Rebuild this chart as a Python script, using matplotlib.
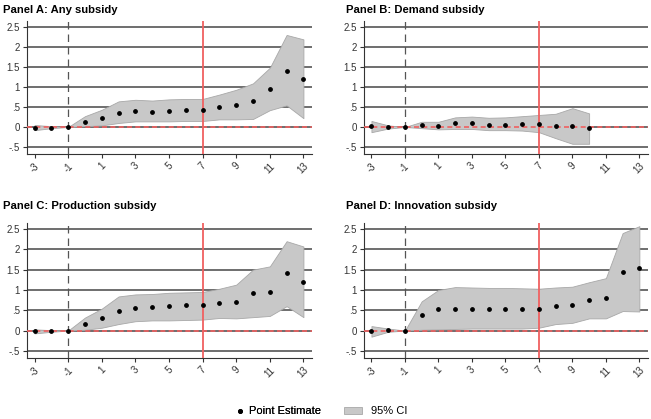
import matplotlib
matplotlib.use("Agg")
import matplotlib.pyplot as plt
from matplotlib.lines import Line2D
from matplotlib.patches import Patch
import numpy as np

plt.rcParams['font.family'] = ['Liberation Sans', 'DejaVu Sans']

periods = list(range(-3, 14))
xticks = [-3, -1, 1, 3, 5, 7, 9, 11, 13]
yticks = [-0.5, 0, 0.5, 1, 1.5, 2, 2.5]
ytick_labels = ["-.5", "0", ".5", "1", "1.5", "2", "2.5"]
titles = ["Panel A: Any subsidy", "Panel B: Demand subsidy",
          "Panel C: Production subsidy", "Panel D: Innovation subsidy"]

est_a = [-0.025, -0.02, 0, 0.13, 0.23, 0.35, 0.40, 0.38, 0.41, 0.43, 0.43, 0.49, 0.54, 0.64, 0.96, 1.41, 1.19]
hi_a = [0.05, 0.02, 0, 0.27, 0.43, 0.64, 0.68, 0.66, 0.69, 0.70, 0.70, 0.81, 0.93, 1.09, 1.48, 2.30, 2.19]
lo_a = [-0.08, -0.03, 0, 0.02, 0.04, 0.10, 0.14, 0.14, 0.14, 0.15, 0.15, 0.19, 0.19, 0.20, 0.42, 0.54, 0.22]

est_b = [0.02, -0.01, 0, 0.04, 0.03, 0.09, 0.11, 0.06, 0.06, 0.08, 0.08, 0.03, 0.02, -0.03]
hi_b = [0.15, 0.04, 0, 0.13, 0.13, 0.24, 0.26, 0.23, 0.24, 0.27, 0.30, 0.33, 0.47, 0.34]
lo_b = [-0.13, -0.04, 0, -0.03, -0.06, -0.05, -0.05, -0.08, -0.08, -0.09, -0.13, -0.28, -0.42, -0.42]

est_c = [-0.02, -0.02, 0, 0.16, 0.31, 0.49, 0.55, 0.57, 0.60, 0.62, 0.62, 0.67, 0.71, 0.92, 0.96, 1.41, 1.19]
hi_c = [0.03, 0.01, 0, 0.32, 0.54, 0.84, 0.89, 0.90, 0.93, 0.94, 0.95, 1.03, 1.13, 1.50, 1.58, 2.20, 2.07]
lo_c = [-0.07, -0.03, 0, 0.02, 0.07, 0.16, 0.23, 0.25, 0.25, 0.26, 0.27, 0.31, 0.30, 0.33, 0.36, 0.60, 0.33]

est_d = [-0.02, 0.01, 0, 0.38, 0.53, 0.54, 0.54, 0.54, 0.54, 0.54, 0.53, 0.60, 0.63, 0.75, 0.80, 1.45, 1.53]
hi_d = [0.11, 0.05, 0, 0.72, 1.00, 1.07, 1.06, 1.05, 1.05, 1.04, 1.03, 1.06, 1.08, 1.19, 1.29, 2.40, 2.57]
lo_d = [-0.15, -0.03, 0, 0.02, 0.03, 0.04, 0.05, 0.05, 0.05, 0.05, 0.07, 0.16, 0.19, 0.30, 0.30, 0.48, 0.47]

panels = [(est_a, hi_a, lo_a), (est_b, hi_b, lo_b), (est_c, hi_c, lo_c), (est_d, hi_d, lo_d)]

fig = plt.figure(figsize=(6.51, 4.19), dpi=100)
positions = [
    [0.0415, 0.6325, 0.4375, 0.3175],
    [0.559, 0.6325, 0.436, 0.3175],
    [0.0415, 0.1456, 0.4375, 0.3224],
    [0.559, 0.1456, 0.436, 0.3224],
]
title_y = [0.977, 0.977, 0.509, 0.509]
title_x = [0.005, 0.532, 0.005, 0.532]

fill_col = '#c8c8c8'
edge_col = '#a8a8a8'

for i, (est, hi, lo) in enumerate(panels):
    ax = fig.add_axes(positions[i])
    n = len(est)
    xs = periods[:n]
    ax.set_xlim(-3.45, 13.5)
    ax.set_ylim(-0.675, 2.65)
    for yv in yticks:
        ax.axhline(yv, color='#555555', lw=1.2, zorder=1)
    ax.fill_between(xs, lo, hi, facecolor=fill_col, edgecolor=edge_col, lw=0.6, zorder=2)
    ax.axhline(0, color='#f06060', lw=1.2, ls=(0, (3, 2)), zorder=3)
    ax.axvline(-1, color='#555555', lw=0.9, ls=(0, (6, 4)), zorder=3)
    ax.axvline(7, color='#f06060', lw=1.3, zorder=3)
    ax.scatter(xs, est, s=6, color='black', zorder=4)
    ax.set_xticks(xticks)
    ax.set_xticklabels([str(t) for t in xticks], rotation=45, fontsize=7, color='#333333')
    ax.set_yticks(yticks)
    ax.set_yticklabels(ytick_labels, fontsize=7, color='#333333')
    ax.tick_params(axis='both', length=3, width=0.8, color='#333333', pad=2)
    for s in ['top', 'right']:
        ax.spines[s].set_visible(False)
    for s in ['left', 'bottom']:
        ax.spines[s].set_color('#333333')
        ax.spines[s].set_linewidth(0.8)
    fig.text(title_x[i], title_y[i], titles[i], fontsize=8.1, fontweight='bold', va='center', ha='left')

h_pt = Line2D([0], [0], marker='o', color='none', markerfacecolor='black', markeredgecolor='black', markersize=2.5)
h_ci = Patch(facecolor=fill_col, edgecolor=edge_col, lw=0.6)
leg1 = fig.legend([h_pt], ['Point Estimate'], loc='center', bbox_to_anchor=(0.428, 0.018),
                  frameon=False, fontsize=8, handlelength=0.6, handletextpad=0.5)
fig.add_artist(leg1)
fig.legend([h_ci], ['95% CI'], loc='center', bbox_to_anchor=(0.577, 0.018),
           frameon=False, fontsize=8, handlelength=1.7, handleheight=0.6, handletextpad=0.8)

fig.savefig('out.png', dpi=100)
